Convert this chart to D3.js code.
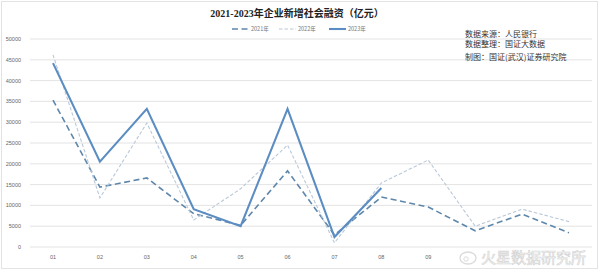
<!DOCTYPE html>
<html><head><meta charset="utf-8">
<script src="https://cdn.jsdelivr.net/npm/d3@7/dist/d3.min.js"></script>
<style>body{margin:0;background:#fff}svg{display:block}</style>
</head><body>
<svg id="c" width="600" height="271"></svg>
<script>
const months = ["01","02","03","04","05","06","07","08","09","10","11","12"];
const xTickLabels = ["01","02","03","04","05","06","07","08","09"];
const yTicks = [0,5000,10000,15000,20000,25000,30000,35000,40000,45000,50000];
const s2021 = [35300,14400,16600,8000,5200,18300,2900,12000,9600,3900,7900,3400];
const s2022 = [46200,11800,29800,6500,14000,24500,1000,15400,20900,5000,9100,6100];
const s2023 = [44200,20500,33200,9100,5000,33200,2400,14200];
const seriesNames = ["2021年","2022年","2023年"];
const sourceLines = ["数据来源：人民银行","数据整理：国证大数据","制图：国证(武汉)证券研究院"];

const svg = d3.select("#c");
const cjk = "'Noto Sans CJK SC','Noto Sans',sans-serif";
svg.append("rect").attr("x",1.5).attr("y",1.5).attr("width",596).attr("height",267)
  .attr("fill","#fff").attr("stroke","#e3e3e3");

const x = d3.scalePoint().domain(months).range([53,569]);
const y = d3.scaleLinear().domain([0,50000]).range([247,39]);

svg.append("g").selectAll("line").data(yTicks).join("line")
  .attr("x1",30).attr("x2",592).attr("y1",d=>y(d)).attr("y2",d=>y(d))
  .attr("stroke","#dcdcdc").attr("stroke-width",0.8);
svg.append("g").selectAll("text").data(yTicks).join("text")
  .attr("x",21).attr("y",d=>y(d)+2).attr("text-anchor","end")
  .attr("font-family","'Liberation Sans',sans-serif").attr("font-size",5.5).attr("fill","#666")
  .text(d=>d);
svg.append("g").selectAll("text").data(xTickLabels).join("text")
  .attr("x",d=>x(d)).attr("y",259).attr("text-anchor","middle")
  .attr("font-family","'Liberation Sans',sans-serif").attr("font-size",5.5).attr("fill","#666")
  .text(d=>d);

const styles = [
  {data:s2021,color:"#5f87ab",w:1.6,dash:"6,3.5"},
  {data:s2022,color:"#b9c8d8",w:1.1,dash:"3.5,2"},
  {data:s2023,color:"#5b8dc2",w:2.1,dash:null}
];
const line = d3.line().x((d,i)=>x(months[i])).y(d=>y(d));
styles.forEach(s=>{
  svg.append("path").datum(s.data).attr("d",line).attr("fill","none")
    .attr("stroke",s.color).attr("stroke-width",s.w)
    .attr("stroke-dasharray",s.dash).attr("stroke-linejoin","miter");
});

svg.append("text").attr("x",297).attr("y",17).attr("text-anchor","middle")
  .attr("font-family","'Liberation Serif','Noto Sans CJK SC',serif").attr("font-weight","bold")
  .attr("font-size",10).attr("fill","#222").text("2021-2023年企业新增社会融资（亿元）");

const lg = [{x:232},{x:279},{x:329}];
styles.forEach((s,i)=>{
  const lx = lg[i].x;
  svg.append("line").attr("x1",lx).attr("x2",lx+17).attr("y1",29).attr("y2",29)
    .attr("stroke",s.color).attr("stroke-width",s.w).attr("stroke-dasharray",s.dash);
  svg.append("text").attr("x",lx+19).attr("y",31).attr("font-family",cjk)
    .attr("font-size",5.5).attr("fill","#777").text(seriesNames[i]);
});

svg.append("g").selectAll("text").data(sourceLines).join("text")
  .attr("x",465).attr("y",(d,i)=>[36.5,47,60][i]).attr("font-family",cjk)
  .attr("font-size",8).attr("fill","#333").text(d=>d);

const wm = svg.append("g").attr("opacity",0.35);
wm.append("ellipse").attr("cx",468).attr("cy",258).attr("rx",8).attr("ry",6)
  .attr("fill","none").attr("stroke","#999").attr("stroke-width",1.3);
wm.append("circle").attr("cx",466).attr("cy",259).attr("r",2.2).attr("fill","none").attr("stroke","#999");
wm.append("text").attr("x",481).attr("y",263).attr("font-family",cjk)
  .attr("font-size",15).attr("fill","#fff").attr("stroke","#888").attr("stroke-width",0.7)
  .text("火星数据研究所");
</script>
</body></html>
